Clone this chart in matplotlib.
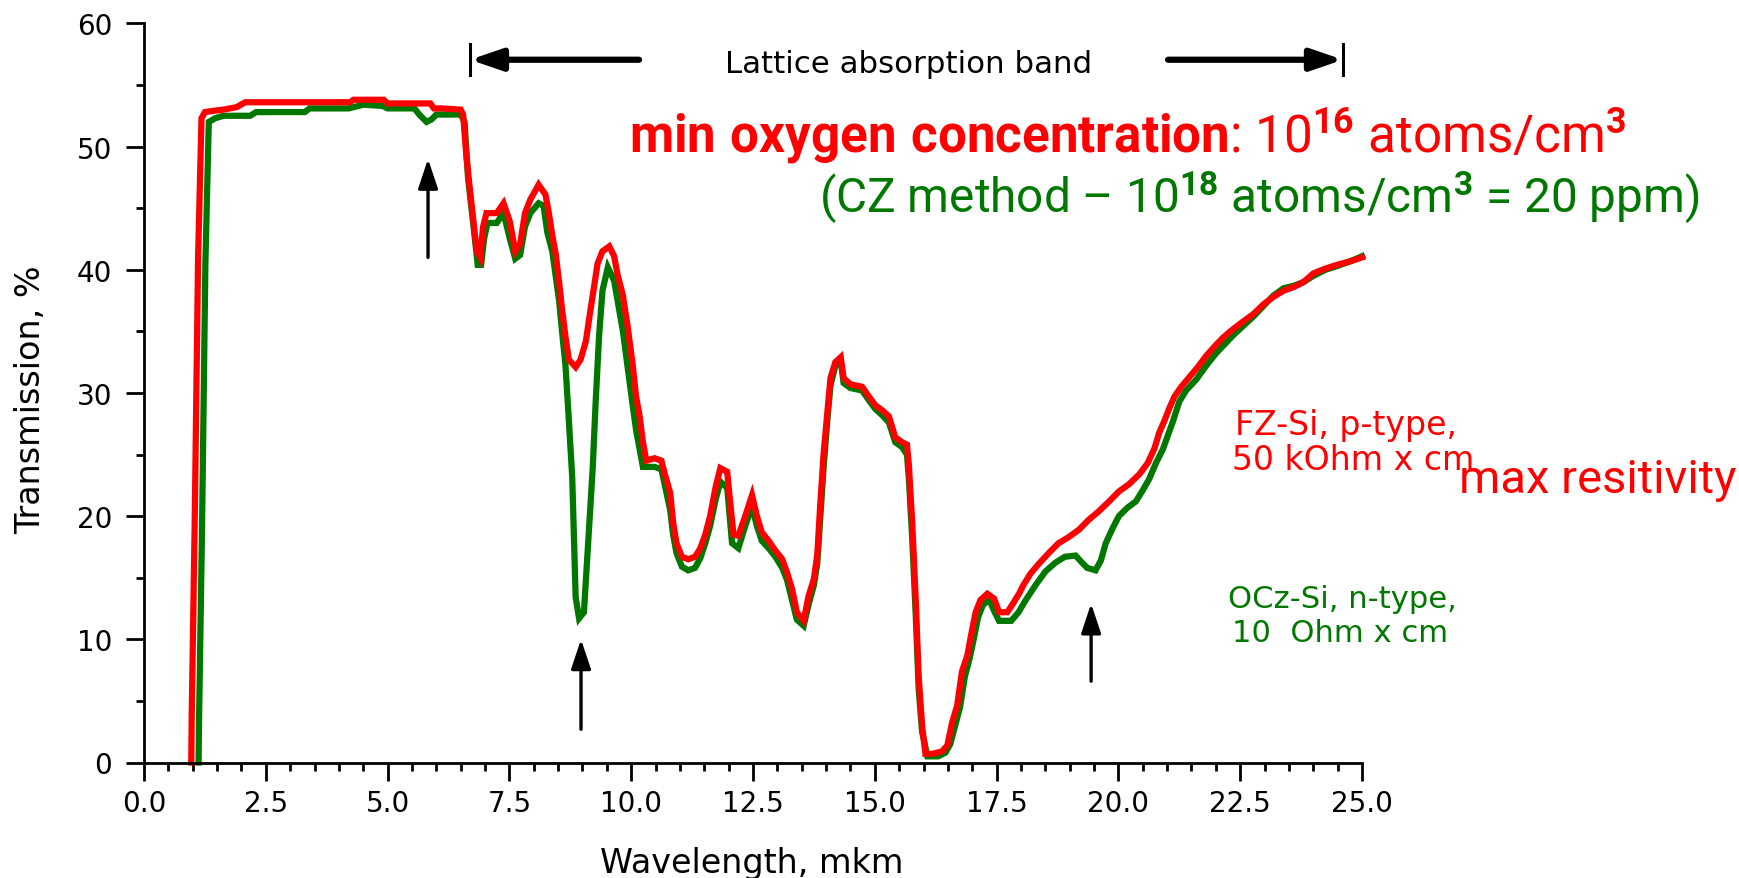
import matplotlib
matplotlib.use("Agg")
import matplotlib.pyplot as plt
from matplotlib.ticker import MultipleLocator

# ---------------- data ----------------
fz_x = [0.97, 0.98, 1.04, 1.11, 1.18, 1.25, 1.42, 1.63, 1.9, 2.08, 3.0, 4.23, 4.3, 4.92, 5.0, 5.88,
        5.95, 6.1, 6.5, 6.55, 6.62, 6.72, 6.83, 6.9, 6.96, 7.03, 7.24, 7.38, 7.51, 7.62, 7.72, 7.82,
        7.93, 8.1, 8.24, 8.31, 8.38, 8.45, 8.52, 8.58, 8.65, 8.72, 8.86, 8.96, 9.07, 9.14, 9.24, 9.31,
        9.41, 9.55, 9.65, 9.72, 9.83, 9.93, 10.03, 10.1, 10.17, 10.24, 10.31, 10.48, 10.62, 10.69,
        10.8, 10.86, 10.93, 11.04, 11.17, 11.31, 11.42, 11.52, 11.62, 11.73, 11.83, 11.97, 12.04,
        12.1, 12.2, 12.34, 12.48, 12.58, 12.68, 12.82, 12.96, 13.1, 13.2, 13.3, 13.4, 13.54, 13.64,
        13.75, 13.82, 13.88, 13.95, 14.02, 14.09, 14.19, 14.3, 14.36, 14.5, 14.74, 14.88, 15.01,
        15.15, 15.29, 15.42, 15.56, 15.66, 15.7, 15.77, 15.84, 15.9, 15.97, 16.04, 16.18, 16.38,
        16.49, 16.59, 16.69, 16.79, 16.9, 16.97, 17.07, 17.17, 17.31, 17.45, 17.55, 17.72, 17.82,
        17.96, 18.05, 18.19, 18.36, 18.57, 18.77, 18.98, 19.19, 19.39, 19.6, 19.81, 20.01, 20.22,
        20.43, 20.6, 20.74, 20.84, 20.94, 21.05, 21.15, 21.29, 21.46, 21.63, 21.8, 21.98, 22.15,
        22.36, 22.56, 22.77, 22.98, 23.18, 23.39, 23.6, 23.8, 24.0, 24.25, 24.49, 24.77, 25.0]
fz_t = [0.0, 4.0, 19.3, 40.9, 52.3, 52.8, 52.9, 53.0, 53.2, 53.6, 53.6, 53.6, 53.8, 53.8, 53.5, 53.5,
        53.1, 53.1, 53.0, 52.6, 49.1, 45.4, 41.5, 41.0, 43.5, 44.6, 44.6, 45.4, 43.9, 41.5, 42.1, 44.6,
        45.7, 46.9, 46.1, 44.6, 42.8, 41.3, 39.0, 36.8, 34.6, 32.7, 32.1, 32.7, 34.2, 36.1, 38.7, 40.5,
        41.5, 41.9, 41.1, 39.6, 37.9, 35.3, 32.3, 29.7, 28.2, 26.0, 24.5, 24.7, 24.5, 23.4,
        21.9, 19.5, 17.8, 16.7, 16.5, 16.7, 17.4, 18.5, 20.0, 22.3, 23.9, 23.6, 20.8,
        18.5, 18.4, 20.0, 21.7, 20.0, 18.7, 18.0, 17.2, 16.5, 15.4, 14.1, 12.2, 11.5, 13.5,
        14.9, 16.9, 20.9, 25.1, 28.2, 31.2, 32.5, 32.9, 31.2, 30.7, 30.5, 29.7, 29.0,
        28.6, 28.1, 26.4, 26.0, 25.8, 24.1, 19.3, 13.2, 7.0, 3.0, 0.7, 0.7, 0.9,
        1.4, 3.3, 4.6, 7.4, 8.7, 10.2, 12.2, 13.2, 13.7, 13.3, 12.2, 12.2, 12.8,
        13.7, 14.4, 15.3, 16.1, 17.0, 17.8, 18.3, 18.9, 19.7, 20.4, 21.2, 22.0, 22.6,
        23.4, 24.3, 25.5, 26.8, 27.7, 28.8, 29.7, 30.5, 31.3, 32.1, 33.0, 33.8, 34.5,
        35.2, 35.8, 36.4, 37.2, 37.8, 38.3, 38.6, 39.0, 39.7, 40.1, 40.4, 40.7, 41.0]

cz_x = [1.12, 1.13, 1.19, 1.26, 1.33, 1.46, 1.63, 2.18, 2.3, 3.3, 3.4, 4.2, 4.5, 4.9, 5.0, 5.55,
        5.65, 5.8, 5.9, 6.0, 6.5, 6.58, 6.65, 6.75, 6.85, 6.92, 6.98, 7.05, 7.24, 7.38, 7.51, 7.62,
        7.72, 7.82, 7.93, 8.1, 8.2, 8.28, 8.38, 8.45, 8.52, 8.58, 8.65, 8.72, 8.79, 8.86, 8.93, 9.03,
        9.1, 9.21, 9.27, 9.34, 9.41, 9.52, 9.65, 9.72, 9.83, 9.93, 10.03, 10.1, 10.17, 10.24, 10.48,
        10.62, 10.69, 10.8, 10.86, 10.93, 11.04, 11.17, 11.31, 11.42, 11.52, 11.62, 11.73, 11.83,
        11.97, 12.07, 12.2, 12.34, 12.48, 12.58, 12.68, 12.82, 12.96, 13.1, 13.2, 13.3, 13.4, 13.54,
        13.64, 13.75, 13.82, 13.88, 13.95, 14.02, 14.09, 14.19, 14.3, 14.36, 14.5, 14.74, 14.88,
        15.01, 15.15, 15.29, 15.42, 15.56, 15.66, 15.7, 15.77, 15.84, 15.9, 15.97, 16.08, 16.3,
        16.45, 16.55, 16.65, 16.75, 16.85, 16.95, 17.03, 17.12, 17.22, 17.35, 17.45, 17.55, 17.8,
        17.95, 18.1, 18.3, 18.5, 18.7, 18.9, 19.12, 19.26, 19.36, 19.53, 19.64, 19.74, 19.88, 20.01,
        20.19, 20.36, 20.5, 20.63, 20.77, 20.91, 21.01, 21.12, 21.25, 21.39, 21.6, 21.8, 22.0,
        22.36, 22.77, 23.18, 23.39, 23.6, 23.8, 24.0, 24.25, 24.49, 24.77, 25.0]
cz_t = [0.0, 3.5, 18.7, 40.5, 52.0, 52.3, 52.5, 52.5, 52.8, 52.8, 53.1, 53.1, 53.4, 53.3, 53.1, 53.1,
        52.6, 52.0, 52.2, 52.6, 52.6, 52.0, 47.5, 44.0, 40.4, 40.4, 42.5, 43.8, 43.8, 44.6, 42.5, 40.9,
        41.2, 43.5, 44.6, 45.4, 45.2, 43.0, 41.5, 39.5, 37.5, 35.0, 32.3, 27.8, 23.1, 13.4, 11.7, 12.2,
        16.7, 23.9, 29.2, 34.6, 38.3, 40.2, 39.1, 37.5, 35.0, 32.0, 29.0, 27.0, 25.5, 24.0, 24.0,
        23.8, 22.5, 20.5, 18.5, 17.0, 15.9, 15.6, 15.8, 16.6, 17.8, 19.2, 21.3, 22.8,
        22.3, 17.8, 17.4, 19.2, 20.8, 19.2, 18.0, 17.4, 16.7, 15.8, 14.8, 13.2, 11.6, 11.1,
        12.8, 14.4, 16.2, 19.8, 24.0, 27.5, 30.6, 32.2, 32.6, 30.8, 30.4, 30.2, 29.4,
        28.7, 28.2, 27.6, 26.0, 25.6, 25.0, 23.0, 18.0, 12.0, 6.0, 2.5, 0.5, 0.5,
        0.8, 1.5, 3.0, 4.5, 7.0, 8.5, 10.0, 11.8, 12.8, 13.2, 12.3, 11.5, 11.5,
        12.2, 13.2, 14.4, 15.5, 16.2, 16.7, 16.8, 16.2, 15.8, 15.6, 16.4, 17.8, 19.0, 20.0,
        20.7, 21.2, 22.1, 23.0, 24.3, 25.4, 26.5, 27.7, 29.3, 30.2, 31.1, 32.2, 33.2,
        34.7, 36.2, 37.9, 38.5, 38.7, 39.0, 39.5, 40.0, 40.3, 40.7, 41.1]

# oxygen-related absorption marks (arrows) and lattice band limits
mark_x = [5.83, 8.97, 19.44]
mark_y0 = [41.0, 2.7, 6.6]
mark_y1 = [49.0, 10.0, 12.9]
band_x0, band_x1 = 6.69, 24.61
band_l_end, band_r_start = 10.16, 21.02
band_y = 57.05

x_ticks = [0.0, 2.5, 5.0, 7.5, 10.0, 12.5, 15.0, 17.5, 20.0, 22.5, 25.0]
y_ticks = [0, 10, 20, 30, 40, 50, 60]

RED = "#ff0000"
GREEN = "#007800"

W, H = 1740, 879
fig = plt.figure(figsize=(W / 100, H / 100), dpi=100)


def fx(px):
    return px / W


def fy(py):
    return 1 - py / H


ax = fig.add_axes([fx(144), fy(763.5), fx(1362) - fx(144), fy(24.4) - fy(763.5)])
ax.set_xlim(0, 25)
ax.set_ylim(0, 60)
for s in ("top", "right"):
    ax.spines[s].set_visible(False)
for s in ("left", "bottom"):
    ax.spines[s].set_linewidth(2.0)

ax.plot(cz_x, cz_t, color=GREEN, lw=4.5, solid_joinstyle="miter", clip_on=False)
ax.plot(fz_x, fz_t, color=RED, lw=4.5, solid_joinstyle="miter", clip_on=False)

ax.set_xticks(x_ticks)
ax.set_xticklabels([f"{v:.1f}" for v in x_ticks])
ax.set_yticks(y_ticks)
ax.set_yticklabels([str(v) for v in y_ticks])
ax.xaxis.set_minor_locator(MultipleLocator(0.5))
ax.yaxis.set_minor_locator(MultipleLocator(5))
ax.tick_params(which="major", direction="out", length=13, width=2.0, labelsize=20,
               color="black")
ax.tick_params(which="minor", direction="out", length=6, width=2.0)
ax.tick_params(axis="x", which="major", pad=6)
ax.tick_params(axis="y", which="major", pad=10)
for lab in ax.get_xticklabels() + ax.get_yticklabels():
    lab.set_family("DejaVu Sans")

# arrows marking oxygen absorption
for xa, y0, y1 in zip(mark_x, mark_y0, mark_y1):
    ax.annotate("", xy=(xa, y1), xytext=(xa, y0),
                arrowprops=dict(arrowstyle="-|>,head_length=1.8,head_width=0.6",
                                lw=2.4, color="black", shrinkA=0, shrinkB=0))

# lattice absorption band
for tip, tail in ((band_x0, band_l_end), (band_x1, band_r_start)):
    ax.annotate("", xy=(tip, band_y), xytext=(tail, band_y),
                arrowprops=dict(arrowstyle="-|>,head_length=1.9,head_width=0.65",
                                lw=4.5, color="black", shrinkA=0, shrinkB=0))
for bx in (band_x0, band_x1):
    ax.plot([bx, bx], [band_y - 1.25, band_y + 1.25], color="black", lw=2.2)

plt.rcParams["mathtext.fontset"] = "custom"
plt.rcParams["mathtext.rm"] = "Roboto"
plt.rcParams["mathtext.bf"] = "Roboto:bold"
plt.rcParams["mathtext.it"] = "Roboto:italic"

texts_to_fit = []


def ftext(px, py, s, width, **kw):
    t = fig.text(fx(px), fy(py), s, **kw)
    texts_to_fit.append((t, width))
    return t


ftext(908.5, 73, "Lattice absorption band", 367, ha="center", va="baseline",
      family="DejaVu Sans", fontsize=20)
ftext(629, 153, r"$\mathbf{min\ oxygen\ concentration}$: 10$^{\mathbf{16}}$ atoms/cm$^{\mathbf{3}}$",
      997, ha="left", va="baseline", family="Roboto", color=RED, fontsize=32)
ftext(819, 212, r"(CZ method – 10$^{\mathbf{18}}$ atoms/cm$^{\mathbf{3}}$ = 20 ppm)",
      882, ha="left", va="baseline", family="Roboto", color=GREEN, fontsize=32)
ftext(1459, 493, "max resitivity", 278, ha="left", va="baseline", family="Roboto",
      color=RED, fontsize=28)
t_fz1 = ftext(1235, 435, "FZ-Si, p-type,", 222, ha="left", va="baseline",
              family="DejaVu Sans", color=RED, fontsize=20)
t_cz1 = ftext(1228, 608, "OCz-Si, n-type,", 229, ha="left", va="baseline",
              family="DejaVu Sans", color=GREEN, fontsize=20)

t_fz2 = fig.text(fx(1232), fy(470), "50 kOhm x cm", ha="left", va="baseline",
                 family="DejaVu Sans", color=RED, fontsize=20)
t_cz2 = fig.text(fx(1232), fy(642), "10  Ohm x cm", ha="left", va="baseline",
                 family="DejaVu Sans", color=GREEN, fontsize=20)

fig.text(fx(31), fy(400), "Transmission, %", rotation=90, ha="center", va="center",
         family="DejaVu Sans", fontsize=24)
fig.text(fx(752), fy(873), "Wavelength, mkm", ha="center", va="baseline",
         family="DejaVu Sans", fontsize=24)

for _ in range(2):
    fig.canvas.draw()
    r = fig.canvas.get_renderer()
    for t, wpx in texts_to_fit:
        w = t.get_window_extent(r).width
        t.set_fontsize(t.get_fontsize() * wpx / w)
t_fz2.set_fontsize(t_fz1.get_fontsize())
t_cz2.set_fontsize(t_cz1.get_fontsize())

fig.savefig("out.png", dpi=100)
